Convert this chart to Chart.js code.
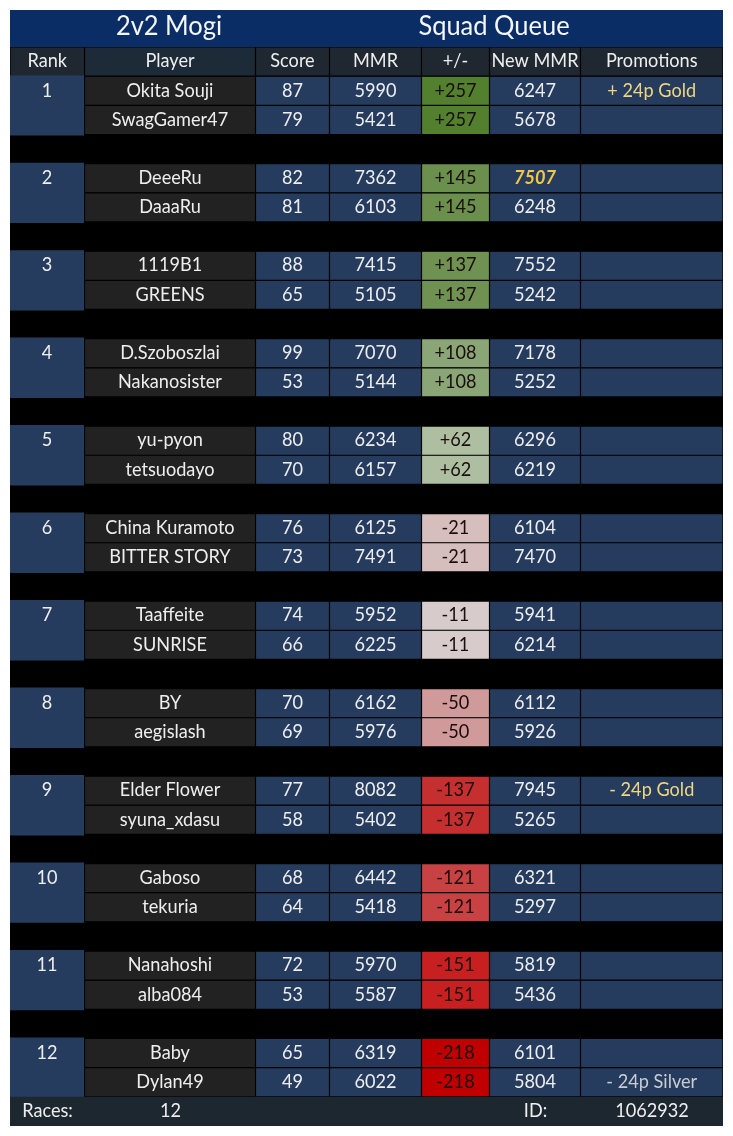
<!DOCTYPE html>
<html lang="en">
<head>
    <meta charset="UTF-8">
    <title>2v2 Mogi Squad Queue</title>
    <script src="https://cdn.jsdelivr.net/npm/chart.js"></script>
    <style>
        html, body { margin: 0; padding: 0; background: #fff; }
        canvas { display: block; }
    </style>
</head>
<body>
    <canvas id="mogi" width="733" height="1136"></canvas>

    <script>
        const titles = ['2v2 Mogi', 'Squad Queue'];
        const headers = ['Rank', 'Player', 'Score', 'MMR', '+/-', 'New MMR', 'Promotions'];
        const ranks = [1, 2, 3, 4, 5, 6, 7, 8, 9, 10, 11, 12];
        const players = ['Okita Souji', 'SwagGamer47', 'DeeeRu', 'DaaaRu', '1119B1', 'GREENS', 'D.Szoboszlai', 'Nakanosister',
            'yu-pyon', 'tetsuodayo', 'China Kuramoto', 'BITTER STORY', 'Taaffeite', 'SUNRISE', 'BY', 'aegislash',
            'Elder Flower', 'syuna_xdasu', 'Gaboso', 'tekuria', 'Nanahoshi', 'alba084', 'Baby', 'Dylan49'];
        const scores = [87, 79, 82, 81, 88, 65, 99, 53, 80, 70, 76, 73, 74, 66, 70, 69, 77, 58, 68, 64, 72, 53, 65, 49];
        const mmrs = [5990, 5421, 7362, 6103, 7415, 5105, 7070, 5144, 6234, 6157, 6125, 7491, 5952, 6225, 6162, 5976,
            8082, 5402, 6442, 5418, 5970, 5587, 6319, 6022];
        const deltas = ['+257', '+145', '+137', '+108', '+62', '-21', '-11', '-50', '-137', '-121', '-151', '-218'];
        const newMmrs = [6247, 5678, 7507, 6248, 7552, 5242, 7178, 5252, 6296, 6219, 6104, 7470, 5941, 6214, 6112, 5926,
            7945, 5265, 6321, 5297, 5819, 5436, 6101, 5804];
        const promotions = ['+ 24p Gold', '', '', '', '', '', '', '', '', '', '', '', '', '', '', '',
            '- 24p Gold', '', '', '', '', '', '', '- 24p Silver'];
        const footer = ['Races:', '12', '', '', '', 'ID:', '1062932'];

        // styles
        const deltaColors = ['#53802f', '#6b8f4d', '#6f9151', '#8ba676', '#aebea0', '#d6bebd', '#d8cbcb', '#cf9a99',
            '#c62f30', '#c84244', '#c82020', '#c00000'];
        const colEdges = [0, 74.5, 245.5, 319.5, 411.5, 479.5, 570.5, 713];
        const FONT = 'Lato';
        const BLUE = '#263c5e', DARK = '#222222', HEAD = '#1f2730', FOOT = '#1d2730';
        const TEXT = '#eeeeee', GOLD = '#f0d77f', SILVER = '#c9ccd2', TITLE_BG = '#0a2d66';

        // one category per table row, gaps included
        const rowLabels = ['header'];
        ranks.forEach((r, i) => {
            rowLabels.push('r' + r + 'a', 'r' + r + 'b');
            if (i < ranks.length - 1) rowLabels.push('gap' + r);
        });
        rowLabels.push('footer');

        function playerColumn(col, i) {
            const rank = Math.floor(i / 2);
            switch (col) {
                case 0: return { text: i % 2 ? '' : String(ranks[rank]), bg: BLUE, merged: true };
                case 1: return { text: players[i], bg: DARK };
                case 2: return { text: String(scores[i]), bg: BLUE };
                case 3: return { text: String(mmrs[i]), bg: BLUE };
                case 4: return { text: deltas[rank], bg: deltaColors[rank], color: '#1a0d0d' };
                case 5:
                    return newMmrs[i] === 7507
                        ? { text: String(newMmrs[i]), bg: BLUE, color: '#f2c744', font: 'italic 700 ' }
                        : { text: String(newMmrs[i]), bg: BLUE };
                default: {
                    const p = promotions[i];
                    return { text: p, bg: BLUE, color: p.includes('Silver') ? SILVER : GOLD };
                }
            }
        }

        // where a cell sits on the x scale
        function cellSpan(c, col) {
            const span = [colEdges[col], colEdges[col + 1]];
            // merged rank cells overlap by a pixel so no seam shows; pull their sides back to match
            if (c.merged) return [span[0] + 1, span[1] - 1.4];
            // footer is one solid strip, so its pieces meet on whole pixels
            if (c.plain) return [Math.round(span[0]), Math.round(span[1])];
            return span;
        }

        const datasets = headers.map((h, col) => {
            const cells = [{ row: 'header', text: h, bg: col === 1 ? '#1d2a38' : HEAD }];
            players.forEach((p, i) => {
                const rank = ranks[Math.floor(i / 2)];
                cells.push(Object.assign({ row: 'r' + rank + (i % 2 ? 'b' : 'a') }, playerColumn(col, i)));
            });
            cells.push({ row: 'footer', text: footer[col], bg: FOOT, plain: true });
            return {
                label: h,
                data: cells.map(c => ({ x: cellSpan(c, col), y: c.row })),
                cells: cells,
                backgroundColor: cells.map(c => c.bg),
                borderColor: '#000',
                borderWidth: cells.map(c => (c.plain || c.merged) ? 0 : 0.6),
                inflateAmount: ctx => cells[ctx.dataIndex] && cells[ctx.dataIndex].merged ? 1 : 0,
                borderSkipped: false,
                barPercentage: 1,
                categoryPercentage: 1,
                grouped: false
            };
        });

        // text squeezed sideways: the reference face is taller and narrower than Lato
        function drawText(ctx, text, x, y, font, squeeze) {
            ctx.save();
            ctx.translate(x, y);
            ctx.scale(squeeze, 1);
            ctx.font = font;
            ctx.fillText(text, 0, 0);
            ctx.restore();
        }

        // table background and title band, drawn behind the bars
        const tableBack = {
            id: 'tableBack',
            beforeDatasetsDraw(chart) {
                const { ctx, chartArea: a, scales: { x } } = chart;
                const left = x.getPixelForValue(0), right = x.getPixelForValue(713);
                ctx.save();
                ctx.fillStyle = '#000';
                ctx.fillRect(left, a.top, right - left, a.bottom - a.top);
                ctx.fillStyle = TITLE_BG;
                ctx.fillRect(left, 10, right - left, a.top - 10);
                ctx.fillStyle = '#f4f6f8';
                ctx.textAlign = 'center';
                ctx.textBaseline = 'middle';
                drawText(ctx, titles[0], x.getPixelForValue(159), 27, '26px ' + FONT, 0.98);
                drawText(ctx, titles[1], x.getPixelForValue(484), 27, '26px ' + FONT, 0.98);
                ctx.restore();
            }
        };

        // cell text, centred on each bar
        const cellText = {
            id: 'cellText',
            afterDatasetsDraw(chart) {
                const { ctx } = chart;
                ctx.save();
                ctx.textAlign = 'center';
                ctx.textBaseline = 'middle';
                chart.data.datasets.forEach((ds, d) => {
                    chart.getDatasetMeta(d).data.forEach((bar, i) => {
                        const c = ds.cells[i];
                        if (!c.text) return;
                        const p = bar.getCenterPoint();
                        ctx.fillStyle = c.color || TEXT;
                        drawText(ctx, c.text, p.x, p.y - 0.5, (c.font || '') + '19.5px ' + FONT, 0.93);
                    });
                });
                ctx.restore();
            }
        };

        new Chart(document.getElementById('mogi').getContext('2d'), {
            type: 'bar',
            data: { labels: rowLabels, datasets: datasets },
            plugins: [tableBack, cellText],
            options: {
                indexAxis: 'y',
                responsive: false,
                animation: false,
                devicePixelRatio: 1,
                layout: { padding: { left: 10, right: 10, top: 47, bottom: 10 } },
                plugins: { legend: { display: false }, tooltip: { enabled: false } },
                scales: {
                    x: { type: 'linear', min: 0, max: 713, display: false },
                    y: { type: 'category', display: false }
                }
            }
        });
    </script>
</body>
</html>
